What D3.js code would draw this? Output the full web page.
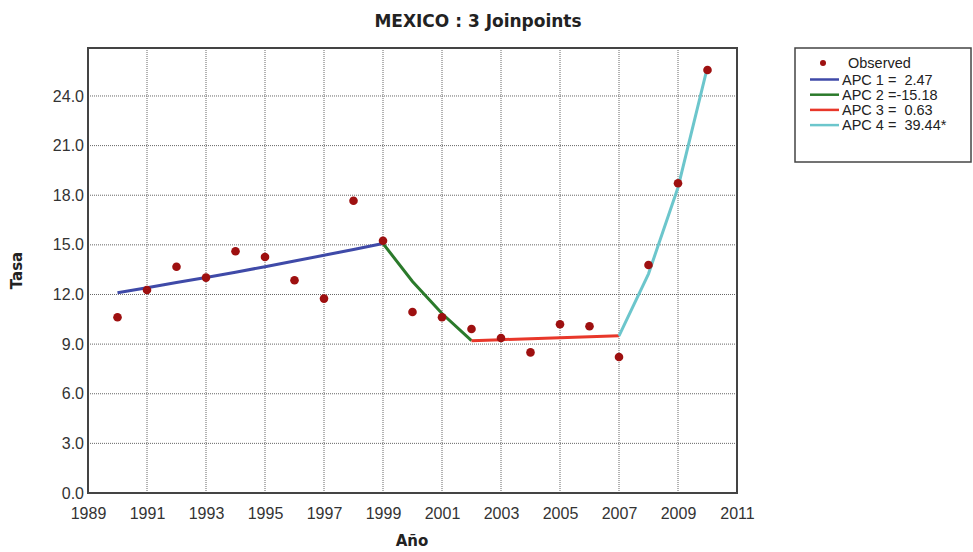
<!DOCTYPE html>
<html>
<head>
<meta charset="utf-8">
<script src="https://cdn.jsdelivr.net/npm/d3@7"></script>
<style>
  body { margin: 0; background: #fff; }
  text { font-family: "Liberation Sans", Arial, sans-serif; }
  .title, .axis-title { font-family: "DejaVu Sans", Verdana, sans-serif; font-weight: bold; }
</style>
</head>
<body>
<svg width="973" height="552"></svg>
<script>
// observed rates
var years = [1990, 1991, 1992, 1993, 1994, 1995, 1996, 1997, 1998, 1999, 2000,
             2001, 2002, 2003, 2004, 2005, 2006, 2007, 2008, 2009, 2010];
var observed = [10.62, 12.27, 13.68, 13.02, 14.61, 14.27, 12.86, 11.75, 17.67, 15.25, 10.94,
                10.62, 9.91, 9.37, 8.50, 10.20, 10.08, 8.22, 13.78, 18.72, 25.57];

// fitted segments
var seg1Years = [1990, 1991, 1992, 1993, 1994, 1995, 1996, 1997, 1998, 1999];
var seg1Fit = [12.11, 12.41, 12.72, 13.03, 13.35, 13.68, 14.02, 14.37, 14.72, 15.08];
var seg2Years = [1999, 2000, 2001, 2002];
var seg2Fit = [15.08, 12.79, 10.85, 9.21];
var seg3Years = [2002, 2003, 2004, 2005, 2006, 2007];
var seg3Fit = [9.21, 9.27, 9.33, 9.39, 9.45, 9.50];
var seg4Years = [2007, 2008, 2009, 2010];
var seg4Fit = [9.50, 13.25, 18.47, 25.76];

var segColors = ["#3f4aa8", "#2b7a2b", "#e8372a", "#6cc6cc"];
var legendLabels = ["APC 1 =  2.47", "APC 2 =-15.18", "APC 3 =  0.63", "APC 4 =  39.44*"];

var xTicks = [1989, 1991, 1993, 1995, 1997, 1999, 2001, 2003, 2005, 2007, 2009, 2011];
var yTicks = [0, 3, 6, 9, 12, 15, 18, 21, 24];

var svg = d3.select("svg");
var margin = {left: 88, top: 48, right: 236, bottom: 59};
var width = 973 - margin.left - margin.right,
    height = 552 - margin.top - margin.bottom;

var x = d3.scaleLinear().domain([1989, 2011]).range([margin.left, margin.left + width]);
var y = d3.scaleLinear().domain([0, 26.9]).range([margin.top + height, margin.top]);

// grid
var grid = svg.append("g").attr("class", "grid");
grid.selectAll("line.v")
  .data(xTicks.slice(1, -1))
  .enter().append("line")
  .attr("x1", function(d) { return x(d); })
  .attr("x2", function(d) { return x(d); })
  .attr("y1", y.range()[1])
  .attr("y2", y.range()[0])
  .attr("stroke", "#666")
  .attr("stroke-width", 1)
  .attr("stroke-dasharray", "1,1");
grid.selectAll("line.h")
  .data(yTicks.slice(1))
  .enter().append("line")
  .attr("y1", function(d) { return y(d); })
  .attr("y2", function(d) { return y(d); })
  .attr("x1", x.range()[0])
  .attr("x2", x.range()[1])
  .attr("stroke", "#666")
  .attr("stroke-width", 1)
  .attr("stroke-dasharray", "1,1");

// axes
var xAxis = svg.append("g")
  .attr("transform", "translate(0," + (margin.top + height) + ")")
  .call(d3.axisBottom(x).tickValues(xTicks).tickFormat(d3.format("d")).tickSize(0).tickPadding(15));
var yAxis = svg.append("g")
  .attr("transform", "translate(" + margin.left + ",0)")
  .call(d3.axisLeft(y).tickValues(yTicks).tickFormat(d3.format(".1f")).tickSize(0).tickPadding(4));
[xAxis, yAxis].forEach(function(a) {
  a.select(".domain").remove();
  a.selectAll("text").attr("fill", "#333").style("font-size", "16px")
    .style("font-family", "'Liberation Sans', Arial, sans-serif");
});

// frame
svg.append("rect")
  .attr("x", margin.left)
  .attr("y", margin.top)
  .attr("width", width)
  .attr("height", height)
  .attr("fill", "none")
  .attr("stroke", "#444")
  .attr("stroke-width", 2);

// fitted lines
var line = d3.line()
  .x(function(d) { return x(d[0]); })
  .y(function(d) { return y(d[1]); });
var segments = [
  d3.zip(seg1Years, seg1Fit),
  d3.zip(seg2Years, seg2Fit),
  d3.zip(seg3Years, seg3Fit),
  d3.zip(seg4Years, seg4Fit)
];
svg.append("g").selectAll("path")
  .data(segments)
  .enter().append("path")
  .attr("d", line)
  .attr("fill", "none")
  .attr("stroke", function(d, i) { return segColors[i]; })
  .attr("stroke-width", 3);

// observed points
svg.append("g").selectAll("circle")
  .data(d3.zip(years, observed))
  .enter().append("circle")
  .attr("cx", function(d) { return x(d[0]); })
  .attr("cy", function(d) { return y(d[1]); })
  .attr("r", 4.3)
  .attr("fill", "#9e1010");

// titles
svg.append("text")
  .attr("class", "title")
  .attr("x", 478)
  .attr("y", 27)
  .attr("text-anchor", "middle")
  .attr("fill", "#222")
  .style("font-size", "17px")
  .text("MEXICO : 3 Joinpoints");
svg.append("text")
  .attr("class", "axis-title")
  .attr("x", 412)
  .attr("y", 546)
  .attr("text-anchor", "middle")
  .attr("fill", "#222")
  .style("font-size", "15px")
  .text("Año");
svg.append("text")
  .attr("class", "axis-title")
  .attr("transform", "translate(22," + (margin.top + height / 2) + ") rotate(-90)")
  .attr("text-anchor", "middle")
  .attr("fill", "#222")
  .style("font-size", "15px")
  .text("Tasa");

// legend
var legend = svg.append("g").attr("transform", "translate(795,48)");
legend.append("rect")
  .attr("width", 176)
  .attr("height", 114)
  .attr("fill", "#fff")
  .attr("stroke", "#444")
  .attr("stroke-width", 1.5);
legend.append("circle")
  .attr("cx", 28)
  .attr("cy", 15)
  .attr("r", 3)
  .attr("fill", "#9e1010");
legend.append("text")
  .attr("x", 53)
  .attr("y", 20)
  .attr("fill", "#222")
  .style("font-size", "14.5px")
  .text("Observed");
var items = legend.selectAll("g.item")
  .data(legendLabels)
  .enter().append("g")
  .attr("transform", function(d, i) { return "translate(0," + (31.5 + i * 15.2) + ")"; });
items.append("line")
  .attr("x1", 15)
  .attr("x2", 44)
  .attr("stroke", function(d, i) { return segColors[i]; })
  .attr("stroke-width", 2.5);
items.append("text")
  .attr("x", 47)
  .attr("y", 5)
  .attr("fill", "#222")
  .style("font-size", "14.5px")
  .style("white-space", "pre")
  .text(function(d) { return d; });
</script>
</body>
</html>
